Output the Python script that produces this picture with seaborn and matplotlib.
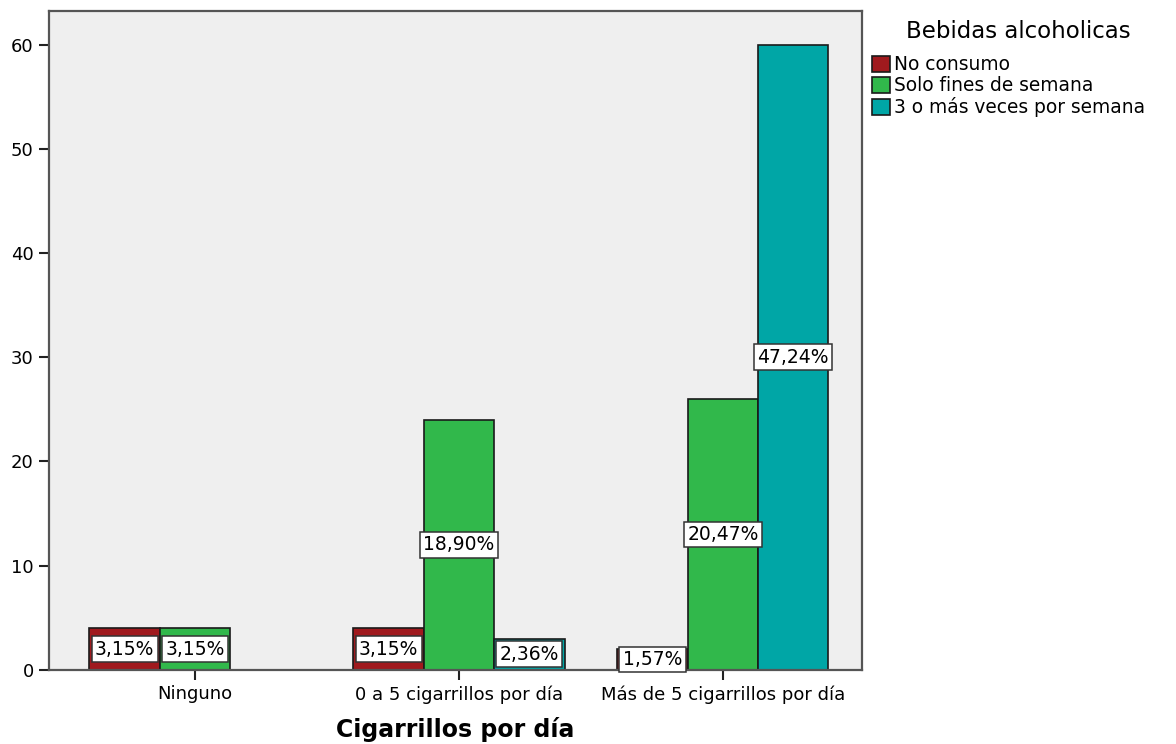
import pandas as pd
import matplotlib.pyplot as plt
import seaborn as sns

categories = ['Ninguno', '0 a 5 cigarrillos por día', 'Más de 5 cigarrillos por día']
levels = ['No consumo', 'Solo fines de semana', '3 o más veces por semana']

# counts per (cigarrillos, bebidas); Ninguno / 3 o más has no cases
cig = ['Ninguno', 'Ninguno',
       '0 a 5 cigarrillos por día', '0 a 5 cigarrillos por día', '0 a 5 cigarrillos por día',
       'Más de 5 cigarrillos por día', 'Más de 5 cigarrillos por día', 'Más de 5 cigarrillos por día']
beb = ['No consumo', 'Solo fines de semana',
       'No consumo', 'Solo fines de semana', '3 o más veces por semana',
       'No consumo', 'Solo fines de semana', '3 o más veces por semana']
counts = [4, 4, 4, 24, 3, 2, 26, 60]

colors = ['#A01A1E', '#31B84B', '#00A6A6']


def main():
    df = pd.DataFrame({'cig': cig, 'beb': beb, 'n': counts})
    total = df['n'].sum()

    sns.set_style('white')
    plt.rcParams['font.family'] = ['DejaVu Sans']
    for k in ['text.color', 'xtick.color', 'ytick.color', 'axes.labelcolor']:
        plt.rcParams[k] = 'black'

    fig = plt.figure(figsize=(11.76, 7.44), dpi=100)
    ax = fig.add_axes([0.0417, 0.0995, 0.6913, 0.8855])
    ax.set_facecolor('#EFEFEF')

    sns.barplot(data=df, x='cig', y='n', hue='beb', order=categories, hue_order=levels,
                palette=colors, width=0.8, edgecolor='#1a1a1a', linewidth=1.2,
                saturation=1, ax=ax)

    for bar in ax.patches:
        h = bar.get_height()
        if not h or h != h:
            continue
        pct = h / total * 100
        txt = ('%.2f%%' % pct).replace('.', ',')
        ax.text(bar.get_x() + bar.get_width() / 2, h / 2, txt, ha='center', va='center',
                fontsize=13.5, color='black',
                bbox=dict(boxstyle='square,pad=0.18', fc='white', ec='#333333', lw=1.1))

    ax.set_xlim(-0.553, 2.527)
    ax.set_ylim(0, 63.2)
    ax.set_yticks(range(0, 61, 10))
    ax.tick_params(axis='both', direction='out', length=7, width=1.5, color='#222222',
                   labelsize=13, bottom=True, left=True, pad=4)
    ax.set_ylabel('')
    ax.set_xlabel('Cigarrillos por día', fontsize=17, fontweight='bold', va='center')
    ax.xaxis.set_label_coords(0.5, -0.091)
    for s in ax.spines.values():
        s.set_color('#555555')
        s.set_linewidth(1.6)

    leg = ax.legend(loc='upper left', bbox_to_anchor=(872 / 1176, 1 - 55 / 744),
                    bbox_transform=fig.transFigure,
                    frameon=False, fontsize=13.4,
                    handlelength=0.95, handleheight=0.95, handletextpad=0.25,
                    labelspacing=0.12, borderaxespad=0, borderpad=0)
    for p in leg.get_patches():
        p.set_edgecolor('#1a1a1a')
        p.set_linewidth(1.2)
    fig.text(1018 / 1176, 1 - 32 / 744, 'Bebidas alcoholicas', ha='center', va='center',
             fontsize=16.5)

    fig.savefig('out.png', dpi=100, facecolor='white')


if __name__ == '__main__':
    main()
